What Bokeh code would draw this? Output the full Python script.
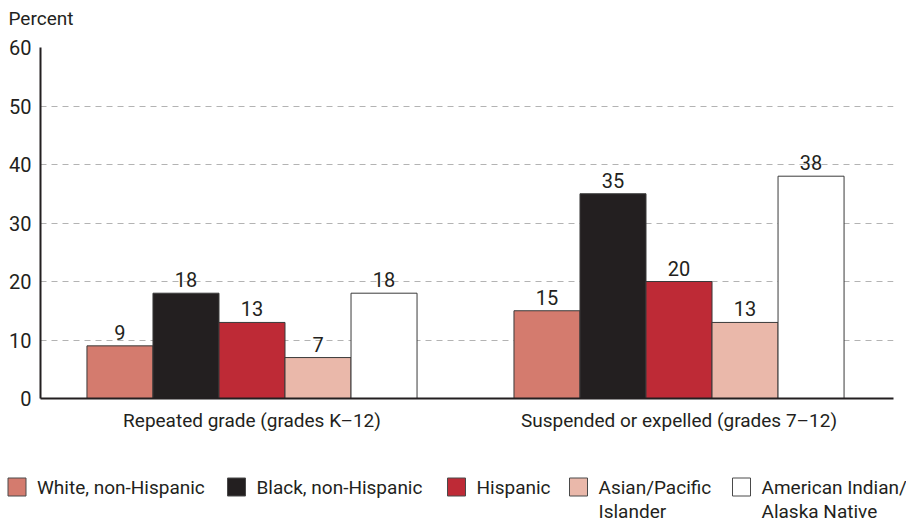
from bokeh.plotting import figure
from bokeh.models import Range1d, ColumnDataSource, FixedTicker
from bokeh.layouts import column, row
from bokeh.core.properties import value
from bokeh.embed import file_html
from bokeh.resources import INLINE

groups = ["Repeated grade (grades K\u201312)", "Suspended or expelled (grades 7\u201312)"]
series = ["White, non-Hispanic", "Black, non-Hispanic", "Hispanic", "Asian/Pacific\nIslander", "American Indian/\nAlaska Native"]
white = [9, 15]
black = [18, 35]
hispanic = [13, 20]
asian = [7, 13]
amind = [18, 38]
colors = ["#D47B6E", "#231F20", "#BE2A36", "#EAB8AA", "#FFFFFF"]
y_ticks = [0, 10, 20, 30, 40, 50, 60]
y_title = "Percent"

FONT = "Roboto"
TXT = "#231F20"
W = 906
TH = 30   # header strip (y-axis title)
H = 420   # main chart
LH = 74   # legend strip


def strip(h):
    f = figure(width=W, height=h, output_backend="svg", toolbar_location=None,
               x_range=Range1d(0, W), y_range=Range1d(h, 0),
               x_axis_location=None, y_axis_location=None, min_border=0,
               outline_line_color=None)
    f.grid.visible = False
    return f


# header with the y-axis title
hd = strip(TH)
hd.text(x=[8], y=[18], text=[y_title], text_baseline="middle", text_align="left",
        text_font=value(FONT), text_font_size="19px", text_color=TXT)

p = figure(width=W, height=H, output_backend="svg", toolbar_location=None,
           x_range=Range1d(-0.4953, 1.5023), y_range=Range1d(0, 60),
           min_border_left=40, min_border_right=W - 893, min_border_top=47 - TH,
           min_border_bottom=H - (398 - TH))
p.outline_line_color = None
p.xgrid.grid_line_color = None
p.ygrid.ticker = FixedTicker(ticks=y_ticks)
p.ygrid.grid_line_color = "#b3b3b3"
p.ygrid.grid_line_dash = "6 5"
p.ygrid.grid_line_width = 1

p.yaxis.ticker = FixedTicker(ticks=y_ticks)
p.xaxis.ticker = FixedTicker(ticks=[0, 1])
p.xaxis.major_label_overrides = {0: groups[0], 1: groups[1]}
for ax in (p.xaxis, p.yaxis):
    ax.axis_line_color = "#231F20"
    ax.axis_line_width = 2
    ax.major_tick_line_color = None
    ax.minor_tick_line_color = None
    ax.major_label_text_font = FONT
    ax.major_label_text_color = TXT
p.yaxis.major_label_text_font_size = "20px"
p.xaxis.major_label_text_font_size = "19px"
p.xaxis.major_label_standoff = 4
p.yaxis.major_label_standoff = 3

bw = 0.1546
all_vals = [white, black, hispanic, asian, amind]
for k, (vals, c) in enumerate(zip(all_vals, colors)):
    xs = [i + (k - 2) * bw for i in range(len(groups))]
    src = ColumnDataSource(dict(x=xs, top=vals, lab=[str(v) for v in vals]))
    p.vbar(x="x", top="top", bottom=0, width=bw, source=src, fill_color=c,
           line_color="#3a3a3a", line_width=1)
    p.text(x="x", y="top", text="lab", source=src, text_align="center",
           text_baseline="bottom", y_offset=-6, text_font=value(FONT),
           text_font_size="20px", text_color=TXT)

# legend strip (data coords = canvas pixels)
lg = strip(LH)
sq_x = [16.5, 236, 456, 578, 741]
line1 = [s.split("\n")[0] for s in series]
line2 = [s.split("\n")[1] if "\n" in s else "" for s in series]
lsrc = ColumnDataSource(dict(x=sq_x, c=colors,
                             tx=[v + 20 for v in sq_x], t1=line1, t2=line2))
lg.rect(x="x", y=36.5, width=18, height=18, source=lsrc, fill_color="c",
        line_color="#4a4a4a", line_width=1)
lg.text(x="tx", y=36.5, text="t1", source=lsrc, text_baseline="middle",
        text_align="left", text_font=value(FONT), text_font_size="19px",
        text_color=TXT)
lg.text(x="tx", y=61, text="t2", source=lsrc, text_baseline="middle",
        text_align="left", text_font=value(FONT), text_font_size="19px",
        text_color=TXT)

layout = column(row(hd), p, row(lg), spacing=0)
open("out.html", "w").write(file_html(layout, INLINE))
